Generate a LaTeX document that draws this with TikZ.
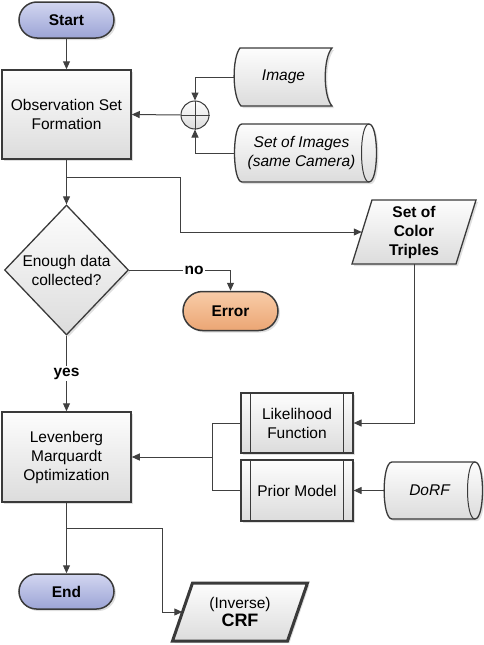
\documentclass[tikz,border=0pt]{standalone}
\usepackage{fontspec}
\setmainfont{Liberation Sans}
\usetikzlibrary{shapes.geometric,arrows.meta,shadows,calc}
\definecolor{linec}{HTML}{404040}
\definecolor{edgec}{HTML}{3A3A3A}
\definecolor{boxtop}{HTML}{FDFDFD}
\definecolor{boxbot}{HTML}{DCDCDC}
\definecolor{bluetop}{HTML}{D2D6F0}
\definecolor{bluebot}{HTML}{9CA4D6}
\definecolor{orgtop}{HTML}{F8CCA8}
\definecolor{orgbot}{HTML}{EBA574}
\begin{document}
\begin{tikzpicture}[x=1pt,y=-1pt,
  font=\fontsize{15.5}{19}\selectfont,
  line/.style={draw=linec, line width=1pt},
  arr/.style={line, -{Triangle[length=8pt,width=7pt]}},
  shad/.style={drop shadow={shadow xshift=2pt,shadow yshift=-2pt,opacity=0.25}},
  gfill/.style={top color=boxtop, bottom color=boxbot},
  procbox/.style={draw=edgec, line width=1.5pt, gfill, shad, align=center, inner sep=0pt},
  pill/.style={draw=edgec, line width=1.5pt, shad, align=center, font=\fontsize{15.5}{19}\selectfont\bfseries, minimum width=95pt},
  bluepill/.style={pill, top color=bluetop, bottom color=bluebot},
  orangepill/.style={pill, top color=orgtop, bottom color=orgbot},
  txt/.style={align=center, inner sep=0pt},
  shapeline/.style={draw=edgec, line width=1.3pt, gfill, shad},
  lbl/.style={fill=white, inner sep=1.5pt, font=\fontsize{15.5}{19}\selectfont\bfseries}
]
\useasboundingbox (0,0) rectangle (484,645);

% main column
\node[bluepill, minimum height=36pt, rounded corners=18pt] (start) at (66.5,20) {Start};
\node[procbox, minimum width=129pt, minimum height=89pt] (obs) at (66.5,114.5) {Observation Set\\Formation};
\node[diamond, draw=edgec, line width=1.3pt, gfill, shad, minimum width=124pt, minimum height=130pt, inner sep=0pt, aspect=0.95, align=center] (dec) at (66.5,270) {Enough data\\collected?};
\node[orangepill, minimum height=39pt, rounded corners=19.5pt] (err) at (230.5,311) {Error};
\node[procbox, minimum width=129pt, minimum height=90pt] (lev) at (66.5,457) {Levenberg\\Marquardt\\Optimization};
\node[bluepill, minimum height=35pt, rounded corners=17.5pt] (end) at (66.5,591.5) {End};

% summing junction
\node[circle, draw=edgec, line width=1pt, gfill, minimum size=28pt, inner sep=0pt] (circ) at (195,115) {};
\draw[linec, line width=0.8pt] (circ.north) -- (circ.south) (circ.west) -- (circ.east);

% Image (stored data)
\node[txt, minimum width=97pt, minimum height=58pt] (img) at (283.5,77) {};
\begin{scope}[shift={(img.center)}]
  \path[shapeline] (-43.5,-29) -- (48.5,-29) .. controls (39.5,-19) and (39.5,19) .. (48.5,29)
     -- (-42.5,29) .. controls (-51.5,19) and (-51.5,-19) .. (-43.5,-29) -- cycle;
\end{scope}
\node[txt, font=\fontsize{15.5}{19}\selectfont\itshape] at (img.center) {Image};

% Set of Images (cylinder)
\node[txt, minimum width=141pt, minimum height=58pt] (setimg) at (305.5,153) {};
\begin{scope}[shift={(setimg.center)}]
  \path[shapeline] (-63.5,-29) -- (63.5,-29) .. controls (73.5,-29) and (73.5,29) .. (63.5,29)
     -- (-63.5,29) .. controls (-73.5,29) and (-73.5,-29) .. (-63.5,-29) -- cycle;
  \draw[edgec, line width=1pt] (63.5,-29) .. controls (53.5,-29) and (53.5,29) .. (63.5,29);
\end{scope}
\node[txt, font=\fontsize{15.5}{19}\selectfont\itshape] at ($(setimg.center)+(-4,0)$) {Set of Images\\(same Camera)};

% Set of Color Triples (parallelogram)
\node[txt, minimum width=104pt, minimum height=64pt] (ct) at (414,232) {};
\begin{scope}[shift={(ct.center)}]
  \path[shapeline] (-42,-32) -- (62,-32) -- (42,32) -- (-62,32) -- cycle;
\end{scope}
\node[txt, font=\fontsize{15.5}{19}\selectfont\bfseries] at (ct.center) {Set of\\Color\\Triples};

% Likelihood Function (predefined process)
\node[procbox, line width=1.2pt, minimum width=112pt, minimum height=60pt] (lik) at (297,423) {Likelihood\\Function};
\draw[edgec, line width=1pt] ($(lik.north west)+(10,0)$) -- ($(lik.south west)+(10,0)$)
  ($(lik.north east)+(-10,0)$) -- ($(lik.south east)+(-10,0)$);

% Prior Model
\node[procbox, line width=1.2pt, minimum width=112pt, minimum height=61pt] (pri) at (297,490.5) {Prior Model};
\draw[edgec, line width=1pt] ($(pri.north west)+(10,0)$) -- ($(pri.south west)+(10,0)$)
  ($(pri.north east)+(-10,0)$) -- ($(pri.south east)+(-10,0)$);

% DoRF (cylinder)
\node[txt, minimum width=99pt, minimum height=57pt] (dorf) at (433.5,490.5) {};
\begin{scope}[shift={(dorf.center)}]
  \path[shapeline] (-41.5,-28.5) -- (41.5,-28.5) .. controls (51.5,-28.5) and (51.5,28.5) .. (41.5,28.5)
     -- (-41.5,28.5) .. controls (-52,28.5) and (-52,-28.5) .. (-41.5,-28.5) -- cycle;
  \draw[edgec, line width=1pt] (41.5,-28.5) .. controls (31.5,-28.5) and (31.5,28.5) .. (41.5,28.5);
\end{scope}
\node[txt, font=\fontsize{15.5}{19}\selectfont\itshape] at ($(dorf.center)+(-4,0)$) {DoRF};

% (Inverse) CRF (parallelogram, thick)
\node[txt, minimum width=115pt, minimum height=58pt] (crf) at (240,612) {};
\begin{scope}[shift={(crf.center)}]
  \path[draw=edgec, line width=3pt, gfill, shad] (-47.5,-29) -- (67.5,-29) -- (47.5,29) -- (-67.5,29) -- cycle;
\end{scope}
\node[txt] at (crf.center) {(Inverse)\\[-1pt]{\fontsize{18}{20}\selectfont\bfseries CRF}};

% connectors
\draw[arr] (start.south) -- (obs.north);
\draw[arr] (circ.west) -- (obs.east);
\draw[arr] (img.west) -| (circ.north);
\draw[arr] (setimg.west) -| (circ.south);
\draw[arr] (obs.south) -- (dec.north);
\coordinate (b1) at (66.5,177);
\coordinate (k1) at (180,177);
\draw[arr] (b1) -- (k1) |- (ct.west);
\draw[arr] (dec.east) -| node[lbl, pos=0.32] {no} (err.north);
\draw[arr] (dec.south) -- node[lbl, pos=0.5] {yes} (lev.north);
\draw[arr] (ct.south) |- (lik.east);
\coordinate (j) at (212,457);
\draw[line] (lik.west) -| (j);
\draw[line] (pri.west) -| (j);
\draw[arr] (j) -- (lev.east);
\draw[arr] (dorf.west) -- (pri.east);
\draw[arr] (lev.south) -- (end.north);
\coordinate (b2) at (66.5,528);
\coordinate (k2) at (162,528);
\draw[arr] (b2) -- (k2) |- (crf.west);
\end{tikzpicture}
\end{document}
